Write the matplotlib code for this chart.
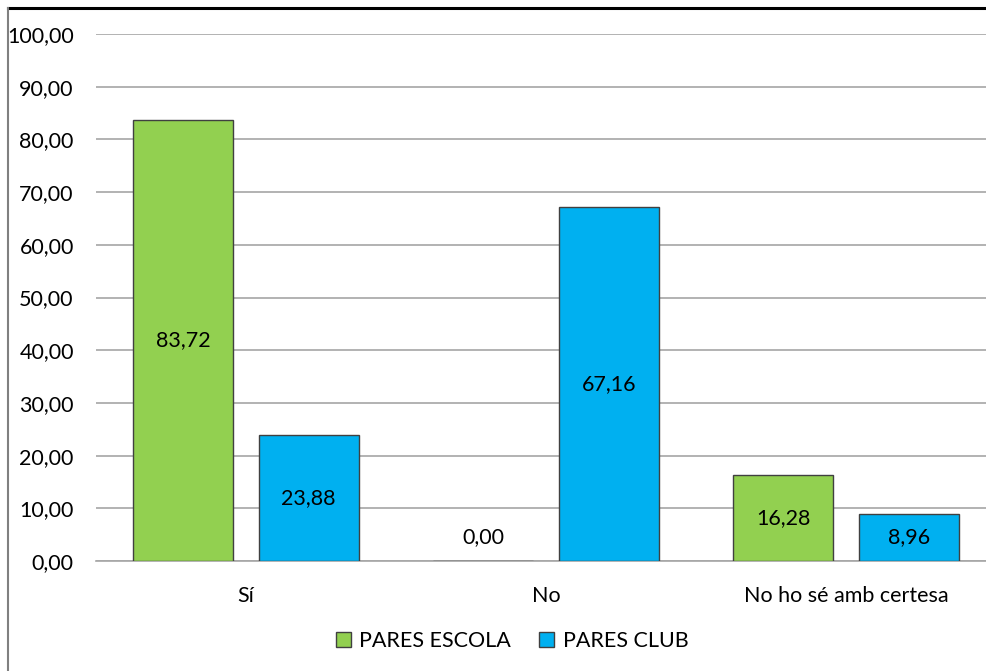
import matplotlib

matplotlib.use("Agg")
import matplotlib.pyplot as plt
from matplotlib.lines import Line2D
from matplotlib.ticker import FuncFormatter

CATEGORIES = ["Sí", "No", "No ho sé amb certesa"]
ESCOLA = [83.72, 0.00, 16.28]
CLUB = [23.88, 67.16, 8.96]
SERIES = ["PARES ESCOLA", "PARES CLUB"]
COLORS = ["#92D050", "#00B0F0"]

plt.rcParams["font.family"] = ["Lato", "DejaVu Sans"]
FS = 15.5

W, H = 987, 671
fig = plt.figure(figsize=(W / 100, H / 100), dpi=100)
ax = fig.add_axes([96 / W, (H - 561) / H, 900 / W, 527 / H])

x = range(len(CATEGORIES))
bw = 0.333
off = 0.209
b1 = ax.bar([i - off for i in x], ESCOLA, bw, color=COLORS[0], edgecolor="#404040",
            linewidth=1, label=SERIES[0], zorder=3)
b2 = ax.bar([i + off for i in x], CLUB, bw, color=COLORS[1], edgecolor="#404040",
            linewidth=1, label=SERIES[1], zorder=3)

fmt = lambda v: f"{v:.2f}".replace(".", ",")
for bars, vals in ((b1, ESCOLA), (b2, CLUB)):
    for b, v in zip(bars, vals):
        ax.text(b.get_x() + b.get_width() / 2, max(v / 2, 4.5), fmt(v),
                ha="center", va="center", fontsize=FS, color="black", zorder=4)

ax.set_xlim(-0.5, 2.5)
ax.set_ylim(0, 100)
ax.set_yticks(range(0, 101, 10))
ax.yaxis.set_major_formatter(FuncFormatter(lambda v, p: fmt(v)))
ax.set_xticks(list(x))
ax.set_xticklabels(CATEGORIES)
ax.tick_params(axis="both", length=0, labelsize=FS, colors="black")
ax.tick_params(axis="y", pad=16)
ax.tick_params(axis="x", pad=18)
ax.grid(axis="y", color="#A6A6A6", linewidth=1.2, zorder=0)
for s in ("top", "right", "left"):
    ax.spines[s].set_visible(False)
ax.spines["bottom"].set_color("#A6A6A6")
ax.spines["bottom"].set_linewidth(1.2)

ax.legend(loc="center", bbox_to_anchor=(512 / W, (H - 641) / H),
          bbox_transform=fig.transFigure, ncol=2, frameon=False, fontsize=FS,
          handlelength=0.7, handleheight=0.7, handletextpad=0.4, columnspacing=1.3)

# outer chart frame (cropped)
fig.add_artist(Line2D([8 / W, 1], [1 - 8 / H, 1 - 8 / H], color="black", lw=2.2))
fig.add_artist(Line2D([8 / W, 8 / W], [0, 1 - 8 / H], color="#808080", lw=1.5))

fig.savefig("out.png", dpi=100)
